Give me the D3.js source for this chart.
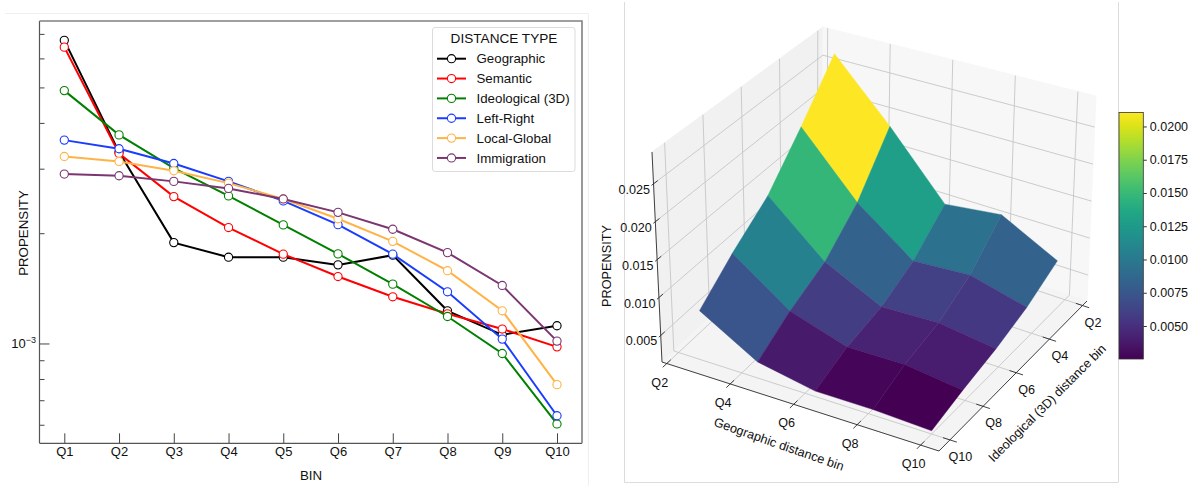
<!DOCTYPE html>
<html>
<head>
<meta charset="utf-8">
<script src="https://cdn.jsdelivr.net/npm/d3@7"></script>
<style>
  html, body { margin: 0; padding: 0; background: #fff; }
  svg { display: block; }
  text { font-family: "Liberation Sans", Arial, sans-serif; fill: #111; }
</style>
</head>
<body>
<div class="canvas"></div>
<script>
// left panel values
const bins = ["Q1", "Q2", "Q3", "Q4", "Q5", "Q6", "Q7", "Q8", "Q9", "Q10"];
const geographic = [6.72e-3, 3.33e-3, 1.885e-3, 1.72e-3, 1.72e-3, 1.639e-3, 1.742e-3, 1.228e-3, 1.056e-3, 1.118e-3];
const semantic = [6.44e-3, 3.30e-3, 2.517e-3, 2.072e-3, 1.753e-3, 1.523e-3, 1.341e-3, 1.205e-3, 1.095e-3, 0.979e-3];
const ideological = [4.90e-3, 3.71e-3, 3.01e-3, 2.528e-3, 2.107e-3, 1.756e-3, 1.452e-3, 1.185e-3, 0.939e-3, 0.603e-3];
const leftRight = [3.59e-3, 3.40e-3, 3.10e-3, 2.77e-3, 2.45e-3, 2.11e-3, 1.753e-3, 1.384e-3, 1.028e-3, 0.635e-3];
const localGlobal = [3.24e-3, 3.14e-3, 2.96e-3, 2.74e-3, 2.48e-3, 2.19e-3, 1.90e-3, 1.58e-3, 1.228e-3, 0.772e-3];
const immigration = [2.90e-3, 2.87e-3, 2.77e-3, 2.65e-3, 2.48e-3, 2.28e-3, 2.05e-3, 1.77e-3, 1.44e-3, 1.015e-3];
const seriesNames = ["Geographic", "Semantic", "Ideological (3D)", "Left-Right", "Local-Global", "Immigration"];
const seriesValues = [geographic, semantic, ideological, leftRight, localGlobal, immigration];
const seriesColors = ["#000000", "#ff0000", "#008000", "#1a3cff", "#ffb347", "#7b3570"];
const minorTicks = [6e-4, 7e-4, 8e-4, 9e-4, 2e-3, 3e-3, 4e-3, 5e-3, 6e-3, 7e-3];

// right panel values, one row per geographic bin, back to front along the ideological bins
const geoBins = [2.72, 4.51, 6.32, 8.15, 10];
const ideoBins = [2.56, 4.34, 6.16, 8.14, 10];
const zGeo1 = [0.0280, 0.0212, 0.0154, 0.0117, 0.0080];
const zGeo2 = [0.0197, 0.0128, 0.0086, 0.0063, 0.0036];
const zGeo3 = [0.0110, 0.0071, 0.0049, 0.0039, 0.0022];
const zGeo4 = [0.0119, 0.0076, 0.0052, 0.0040, 0.0022];
const zGeo5 = [0.0080, 0.0057, 0.0042, 0.0031, 0.0019];
const zRows = [zGeo1, zGeo2, zGeo3, zGeo4, zGeo5];
const binTicks = [2, 4, 6, 8, 10];
const zTicks = [0.005, 0.010, 0.015, 0.020, 0.025];
const colorTicks = [0.005, 0.0075, 0.01, 0.0125, 0.015, 0.0175, 0.02];

const svg = d3.select(".canvas").append("svg")
    .attr("width", 1195)
    .attr("height", 486);

// faint panel borders
const borders = svg.append("g").attr("fill", "none");
borders.append("path").attr("d", "M5,13.5H588.5V486").attr("stroke", "#efefef");
borders.append("path").attr("d", "M624.5,2V482.5H1118.5V2").attr("stroke", "#dcdcdc");

// ---- left panel ----
const x = d3.scalePoint().domain(bins).range([64.3, 557]);
const y = d3.scaleLog().domain([5.34e-4, 7.59e-3]).range([443.3, 21]);

const left = svg.append("g");

const xAxis = left.append("g")
    .attr("transform", "translate(0,443.3)")
    .call(d3.axisBottom(x).tickSize(-10).tickPadding(3.5));
xAxis.select(".domain").remove();
xAxis.selectAll("text").attr("font-size", 13).attr("font-family", null);
xAxis.selectAll("line").attr("stroke", "#444");

const yMinor = left.append("g")
    .attr("transform", "translate(39.5,0)")
    .call(d3.axisLeft(y).tickValues(minorTicks).tickSize(-5).tickFormat(""));
yMinor.select(".domain").remove();
yMinor.selectAll("line").attr("stroke", "#444");

const yMajor = left.append("g")
    .attr("transform", "translate(39.5,0)")
    .call(d3.axisLeft(y).tickValues([1e-3]).tickSize(-10).tickFormat(""));
yMajor.select(".domain").remove();
yMajor.selectAll("line").attr("stroke", "#444");

const decade = left.append("text")
    .attr("x", 36)
    .attr("y", y(1e-3) + 5)
    .attr("text-anchor", "end")
    .attr("font-size", 13);
decade.append("tspan").text("10");
decade.append("tspan").attr("dy", -5).attr("font-size", 9).text("\u22123");

left.append("text")
    .attr("x", 311)
    .attr("y", 480)
    .attr("text-anchor", "middle")
    .attr("font-size", 13.3)
    .text("BIN");

left.append("text")
    .attr("transform", "translate(27.5,233) rotate(-90)")
    .attr("text-anchor", "middle")
    .attr("font-size", 13.3)
    .text("PROPENSITY");

const line = d3.line().x((d, i) => x(bins[i])).y(d => y(d));

seriesValues.forEach((values, s) => {
    const g = left.append("g");
    g.append("path")
        .attr("d", line(values))
        .attr("fill", "none")
        .attr("stroke", seriesColors[s])
        .attr("stroke-width", 2);
    g.selectAll("circle")
        .data(values)
        .enter().append("circle")
        .attr("cx", (d, i) => x(bins[i]))
        .attr("cy", d => y(d))
        .attr("r", 4.1)
        .attr("fill", "#fff")
        .attr("stroke", seriesColors[s])
        .attr("stroke-width", 1.1);
});

// frame goes over the ticks; top and right look heavier in the original
left.append("path").attr("d", "M39.5,443.3V21").attr("stroke", "#555").attr("stroke-width", 1.2);
left.append("path").attr("d", "M39.5,443.3H582").attr("stroke", "#555").attr("stroke-width", 1.2);
left.append("path").attr("d", "M39.5,21H582V443.3").attr("fill", "none").attr("stroke", "#808080").attr("stroke-width", 1.6);

// legend
const legend = svg.append("g").attr("transform", "translate(432.5,27.5)");
legend.append("rect")
    .attr("width", 142.5)
    .attr("height", 144)
    .attr("rx", 2.5)
    .attr("fill", "#fff")
    .attr("stroke", "#dcdcdc");
legend.append("text")
    .attr("x", 71.5)
    .attr("y", 15)
    .attr("text-anchor", "middle")
    .attr("font-size", 13.6)
    .text("DISTANCE TYPE");

const rows = legend.selectAll(".row")
    .data(seriesNames)
    .enter().append("g")
    .attr("class", "row")
    .attr("transform", (d, i) => `translate(0,${31.2 + i * 19.85})`);
rows.append("line")
    .attr("x1", 4.5)
    .attr("x2", 33.5)
    .attr("stroke", (d, i) => seriesColors[i])
    .attr("stroke-width", 2);
rows.append("circle")
    .attr("cx", 19)
    .attr("r", 4.1)
    .attr("fill", "#fff")
    .attr("stroke", (d, i) => seriesColors[i])
    .attr("stroke-width", 1.1);
rows.append("text")
    .attr("x", 44)
    .attr("y", 4.7)
    .attr("font-size", 13.3)
    .text(d => d);

// ---- right panel ----
const geoScale = d3.scaleLinear().domain([1.85, 10.58]).range([0, 1]);
const ideoScale = d3.scaleLinear().domain([10.66, 1.73]).range([0, 1]);
const zScale = d3.scaleLinear().domain([0.0015, 0.0292]).range([0, 1]);

// box corners on screen: floor and ceiling, a along geographic, b along ideological
const floor = { a0b0: [662, 362], a1b0: [939, 451], a1b1: [1087, 301], a0b1: [822, 213] };
const ceil = { a0b0: [652, 152], a1b0: [942, 226], a1b1: [1096, 96], a0b1: [823, 27] };

function cornerMix(c, a, b, k) {
    return c.a0b0[k] * (1 - a) * (1 - b) + c.a1b0[k] * a * (1 - b)
        + c.a1b1[k] * a * b + c.a0b1[k] * (1 - a) * b;
}
function project(a, b, w) {
    return [0, 1].map(k => cornerMix(floor, a, b, k) * (1 - w) + cornerMix(ceil, a, b, k) * w);
}
const poly = pts => "M" + pts.map(p => p.join(",")).join("L") + "Z";
const seg = (p, q) => `M${p[0]},${p[1]}L${q[0]},${q[1]}`;

const box = svg.append("g");

box.append("path").attr("fill", "#f1f1f1").attr("stroke", "#f1f1f1")
    .attr("d", poly([project(0, 0, 0), project(0, 1, 0), project(0, 1, 1), project(0, 0, 1)]));
box.append("path").attr("fill", "#f7f7f7").attr("stroke", "#f7f7f7")
    .attr("d", poly([project(0, 1, 0), project(1, 1, 0), project(1, 1, 1), project(0, 1, 1)]));
box.append("path").attr("fill", "#f4f4f4").attr("stroke", "#f4f4f4")
    .attr("d", poly([project(0, 0, 0), project(1, 0, 0), project(1, 1, 0), project(0, 1, 0)]));

const grid = box.append("g").attr("fill", "none").attr("stroke", "#c6c6c6").attr("stroke-width", 0.9);
binTicks.forEach(q => {
    const a = geoScale(q), b = ideoScale(q);
    grid.append("path").attr("d", seg(project(a, 0, 0), project(a, 1, 0)) + seg(project(a, 1, 0), project(a, 1, 1)));
    grid.append("path").attr("d", seg(project(1, b, 0), project(0, b, 0)) + seg(project(0, b, 0), project(0, b, 1)));
});
zTicks.forEach(z => {
    const w = zScale(z);
    grid.append("path").attr("d", seg(project(0, 0, w), project(0, 1, w)) + seg(project(0, 1, w), project(1, 1, w)));
});

// axis lines and ticks
const axes = box.append("g").attr("fill", "none").attr("stroke", "#2a2a2a").attr("stroke-width", 0.9);
axes.append("path").attr("d", seg(project(0, 0, 1), project(0, 0, 0)) + seg(project(0, 0, 0), project(1, 0, 0)) + seg(project(1, 0, 0), project(1, 1, 0)));
binTicks.forEach(q => {
    const a = geoScale(q), b = ideoScale(q);
    axes.append("path").attr("d", seg(project(a, -0.025, 0), project(a, 0.025, 0)));
    axes.append("path").attr("d", seg(project(1.025, b, 0), project(0.975, b, 0)));
});
zTicks.forEach(z => {
    const w = zScale(z);
    axes.append("path").attr("d", seg(project(0, -0.012, w), project(0, 0.025, w)));
});

// surface, far faces first; colours run over the range of the face means
const faces = [];
d3.range(4).forEach(j => d3.range(4).forEach(i => {
    const corners = [[i, j], [i + 1, j], [i + 1, j + 1], [i, j + 1]];
    faces.push({
        pts: corners.map(([gi, ij]) => project(geoScale(geoBins[gi]), ideoScale(ideoBins[ij]), zScale(zRows[gi][ij]))),
        mean: d3.mean(corners, ([gi, ij]) => zRows[gi][ij])
    });
}));
const colorScale = d3.scaleSequential(d3.interpolateViridis).domain(d3.extent(faces, d => d.mean));
svg.append("g").selectAll("path")
    .data(faces)
    .enter().append("path")
    .attr("d", d => poly(d.pts))
    .attr("fill", d => colorScale(d.mean))
    .attr("stroke", d => colorScale(d.mean))
    .attr("stroke-width", 0.4);

// tick labels
const labels3d = svg.append("g").attr("font-size", 12.6);
binTicks.forEach(q => {
    const p = project(geoScale(q), 0, 0);
    labels3d.append("text")
        .attr("x", p[0] - 7).attr("y", p[1] + 23)
        .attr("text-anchor", "middle")
        .text("Q" + q);
    const r = project(1, ideoScale(q), 0);
    labels3d.append("text")
        .attr("x", r[0] + 10.5).attr("y", r[1] + 21)
        .attr("text-anchor", "middle")
        .text("Q" + q);
});
zTicks.forEach(z => {
    const p = project(0, 0, zScale(z));
    labels3d.append("text")
        .attr("x", p[0] - 3.5).attr("y", p[1] + 10)
        .attr("text-anchor", "end")
        .text(z.toFixed(3));
});
svg.append("text")
    .attr("transform", "translate(779,444) rotate(19.3)")
    .attr("text-anchor", "middle")
    .attr("dy", "0.35em")
    .attr("font-size", 12.7)
    .text("Geographic distance bin");
svg.append("text")
    .attr("transform", "translate(1047,403) rotate(-45)")
    .attr("text-anchor", "middle")
    .attr("dy", "0.35em")
    .attr("font-size", 12.7)
    .text("Ideological (3D) distance bin");
svg.append("text")
    .attr("transform", "translate(606.5,266) rotate(-90)")
    .attr("text-anchor", "middle")
    .attr("dy", "0.35em")
    .attr("font-size", 12.7)
    .text("PROPENSITY");

// colorbar
const cbScale = d3.scaleLinear().domain([0.00252, 0.02105]).range([359, 112.5]);
const cb = svg.append("g");
const grad = svg.append("defs").append("linearGradient")
    .attr("id", "viridisBar")
    .attr("x1", 0).attr("x2", 0).attr("y1", 1).attr("y2", 0);
grad.selectAll("stop")
    .data(d3.range(0, 1.001, 0.05))
    .enter().append("stop")
    .attr("offset", d => d)
    .attr("stop-color", d => d3.interpolateViridis(d));
cb.append("rect")
    .attr("x", 1119)
    .attr("y", cbScale.range()[1])
    .attr("width", 24.3)
    .attr("height", cbScale.range()[0] - cbScale.range()[1])
    .attr("fill", "url(#viridisBar)")
    .attr("stroke", "#333")
    .attr("stroke-width", 0.8);
const cbAxis = cb.append("g")
    .attr("transform", "translate(1143.3,0)")
    .call(d3.axisRight(cbScale).tickValues(colorTicks).tickSize(3.5).tickPadding(3).tickFormat(d3.format(".4f")));
cbAxis.select(".domain").remove();
cbAxis.selectAll("text").attr("font-size", 12.5).attr("font-family", null);
cbAxis.selectAll("line").attr("stroke", "#333");
</script>
</body>
</html>
